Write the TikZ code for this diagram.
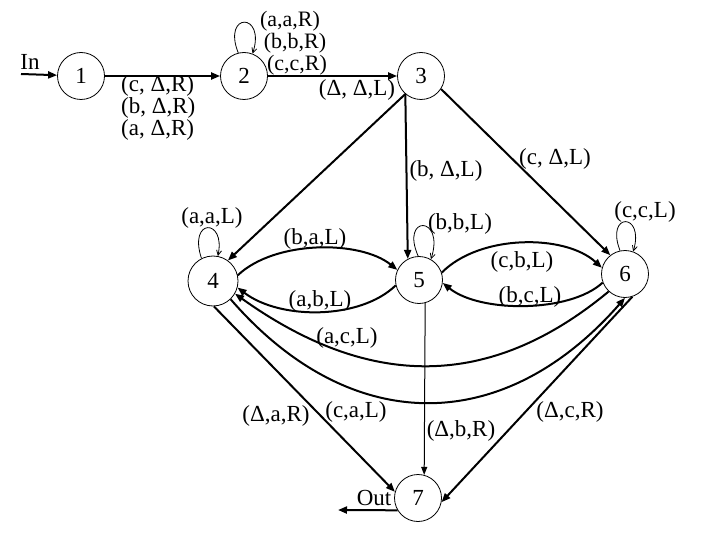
\documentclass[tikz,border=0pt]{standalone}
\usepackage{fontspec}
\setmainfont{Liberation Serif}
\usetikzlibrary{arrows.meta}
\begin{document}
\begin{tikzpicture}[x=1pt,y=-1pt,
  state/.style={circle,draw,line width=0.8pt,minimum size=47pt,inner sep=0pt,font=\fontsize{23}{23}\selectfont},
  lbl/.style={inner sep=0pt,font=\fontsize{23}{20}\selectfont},
  edge/.style={line width=2pt,-{Triangle[length=9pt,width=7pt]}},
  loopedge/.style={line width=0.8pt,-{Straight Barb[length=5pt,width=5pt]}},
  thinedge/.style={line width=1pt,-{Triangle[length=8pt,width=6pt]}},
]
\useasboundingbox (0,0) rectangle (720,540);
% states
\node[state] (n1) at (81,76) {1};
\node[state] (n2) at (244,76) {2};
\node[state] (n3) at (421,76) {3};
\node[state,minimum size=50pt] (n4) at (213,281) {4};
\node[state] (n5) at (419,280) {5};
\node[state] (n6) at (625,274) {6};
\node[state] (n7) at (418,498) {7};
\coordinate (inA) at (21,74);
\coordinate (outA) at (338,510);
% labels
\node[lbl] (lin) at (30,62) {In};
\node[lbl] (lout) at (374,498) {Out};
\node[lbl,align=left,anchor=west] (l12) at (121,108) {(c, Δ,R)\\(b, Δ,R)\\(a, Δ,R)};
\node[lbl,font=\fontsize{22}{20}\selectfont] (l22a) at (290,21) {(a,a,R)};
\node[lbl,font=\fontsize{22}{20}\selectfont] (l22b) at (295,43) {(b,b,R)};
\node[lbl,font=\fontsize{22}{20}\selectfont] (l22c) at (297,65) {(c,c,R)};
\node[lbl] (l23) at (357,90) {(Δ, Δ,L)};
\node[lbl] (l35) at (446,171) {(b, Δ,L)};
\node[lbl] (l36) at (555,159) {(c, Δ,L)};
\node[lbl] (l66) at (645,212) {(c,c,L)};
\node[lbl] (l55) at (460,224) {(b,b,L)};
\node[lbl] (l44) at (212,218) {(a,a,L)};
\node[lbl] (l45) at (315,239) {(b,a,L)};
\node[lbl] (l54) at (320,301) {(a,b,L)};
\node[lbl] (l64) at (347,338) {(a,c,L)};
\node[lbl] (l56) at (522,262) {(c,b,L)};
\node[lbl] (l65) at (530,297) {(b,c,L)};
\node[lbl] (l47) at (276,416) {(Δ,a,R)};
\node[lbl] (l46) at (356,412) {(c,a,L)};
\node[lbl] (l57) at (461,431) {(Δ,b,R)};
\node[lbl] (l67) at (570,412) {(Δ,c,R)};
% edges
\draw[edge] (inA) -- (n1);
\draw[edge] (n1) -- (n2);
\draw[edge] (n2) -- (n3);
\draw[loopedge] (n2.104) .. controls (222,12) and (266,12) .. (n2.69);
\draw[edge] (n3.229) -- (n4.54);
\draw[edge] (n3.229) -- (n5.118);
\draw[edge] (n3.-33) -- (n6.128);
\draw[loopedge] (n4.117) .. controls (188,218) and (226,218) .. (n4.79);
\draw[loopedge] (n5.92) .. controls (400,215) and (445,215) .. (n5.60);
\draw[loopedge] (n6.102) .. controls (605,212) and (645,212) .. (n6.70);
\draw[edge] (n4.13) .. controls (275,240) and (360,240) .. (n5.155);
\draw[edge] (n5.193) .. controls (360,320) and (280,320) .. (n4.345);
\draw[edge] (n5.18) .. controls (480,234) and (565,234) .. (n6.165);
\draw[edge] (n6.201) .. controls (570,313) and (480,313) .. (n5.-7);
\draw[edge] (n6.227) .. controls (490,390) and (370,390) .. (n4.330);
\draw[edge] (n4.314) .. controls (350,437) and (503,437) .. (n6.270);
\draw[edge] (n4.-88) -- (n7.165);
\draw[thinedge] (n5.-75) -- (n7.75);
\draw[edge] (n6.-72) -- (n7.-10);
\draw[edge] (n7.211) -- (outA);
\end{tikzpicture}
\end{document}
